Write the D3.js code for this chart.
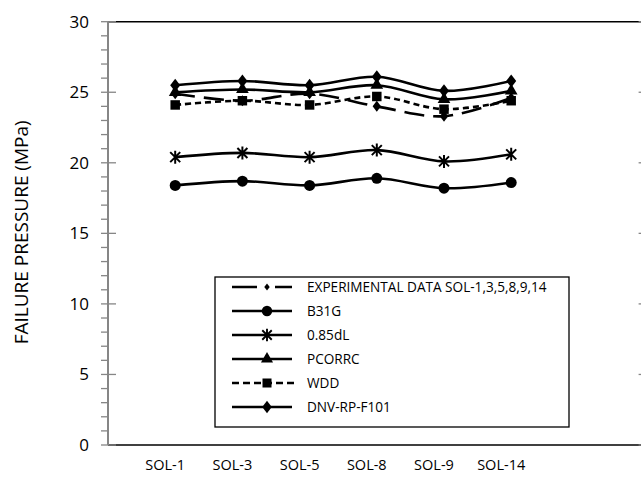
<!DOCTYPE html>
<html>
<head>
<meta charset="utf-8">
<script src="https://cdn.jsdelivr.net/npm/d3@7"></script>
<style>
	body { margin: 0; background: #fff; }
	svg { display: block; }
	text { font-family: "Open Sans", "Liberation Sans", sans-serif; fill: #000; }
</style>
</head>
<body>
<svg id="chart" width="641" height="481"></svg>
<script>

var categories = [ "SOL-1", "SOL-3", "SOL-5", "SOL-8", "SOL-9", "SOL-14" ];

var experimental = [ 24.9, 24.4, 24.9, 24.0, 23.3, 24.6 ];
var b31g = [ 18.4, 18.7, 18.4, 18.9, 18.2, 18.6 ];
var dl085 = [ 20.4, 20.7, 20.4, 20.9, 20.1, 20.6 ];
var pcorrc = [ 25.0, 25.2, 25.0, 25.5, 24.5, 25.1 ];
var wdd = [ 24.1, 24.4, 24.1, 24.7, 23.8, 24.4 ];
var dnv = [ 25.5, 25.8, 25.5, 26.1, 25.1, 25.8 ];

var yTicks = [ 0, 5, 10, 15, 20, 25, 30 ];

var series = [
	{ name: "EXPERIMENTAL DATA SOL-1,3,5,8,9,14", values: experimental, dash: "20,9", legendDash: "25,18", marker: "diamondSmall" },
	{ name: "B31G", values: b31g, dash: null, marker: "circle" },
	{ name: "0.85dL", values: dl085, dash: null, marker: "star" },
	{ name: "PCORRC", values: pcorrc, dash: null, marker: "triangle" },
	{ name: "WDD", values: wdd, dash: "6,4", legendDash: "7,4", marker: "square" },
	{ name: "DNV-RP-F101", values: dnv, dash: null, marker: "diamond" }
];

var svg = d3.select("#chart");

var margin = { left: 108, right: 645.6, top: 21.7, bottom: 445 };

var x = d3.scaleLinear().domain([0, 8]).range([margin.left, margin.right]);
var y = d3.scaleLinear().domain([0, 30]).range([margin.bottom, margin.top]);

var grey = "#868686";

// frame: black top and bottom
[0, 30].forEach(v => {
	svg.append("line")
		.attr("x1", margin.left).attr("x2", margin.right)
		.attr("y1", y(v)).attr("y2", y(v))
		.attr("stroke", "#000").attr("stroke-width", 1.5);
});

var minor = d3.range(0, 31, 1).filter(v => v % 5 !== 0);

var yAxis = svg.append("g")
	.attr("transform", `translate(${margin.left},0)`);

yAxis.selectAll(".minor")
	.data(minor)
	.join("line")
	.attr("x1", -7).attr("x2", 0)
	.attr("y1", d => y(d)).attr("y2", d => y(d))
	.attr("stroke", grey).attr("stroke-width", 1.3);

yAxis.selectAll(".major")
	.data(yTicks)
	.join("line")
	.attr("x1", -7).attr("x2", 8)
	.attr("y1", d => y(d)).attr("y2", d => y(d))
	.attr("stroke", grey).attr("stroke-width", 1.3);

yAxis.append("line")
	.attr("x1", 0).attr("x2", 0)
	.attr("y1", y(0)).attr("y2", y(30))
	.attr("stroke", grey).attr("stroke-width", 2);

yAxis.selectAll(".lbl")
	.data(yTicks)
	.join("text")
	.attr("x", -19)
	.attr("y", d => y(d))
	.attr("dy", "0.35em")
	.attr("text-anchor", "end")
	.attr("font-size", 17)
	.text(d => d);

// right axis (mostly off-canvas)
var rAxis = svg.append("g")
	.attr("transform", `translate(${margin.right},0)`);

rAxis.selectAll("line")
	.data(yTicks)
	.join("line")
	.attr("x1", -7).attr("x2", 7)
	.attr("y1", d => y(d)).attr("y2", d => y(d))
	.attr("stroke", grey).attr("stroke-width", 1.3);

// y title
svg.append("text")
	.attr("transform", `translate(28,${(margin.top + margin.bottom) / 2 - 1}) rotate(-90)`)
	.attr("text-anchor", "middle")
	.attr("font-size", 19)
	.text("FAILURE PRESSURE (MPa)");

// x labels
svg.selectAll(".xlbl")
	.data(categories)
	.join("text")
	.attr("x", (d, i) => x(i + 1) - 10)
	.attr("y", 470)
	.attr("text-anchor", "middle")
	.attr("font-size", 14.5)
	.text(d => d);

function markerPath(type) {
	switch (type) {
		case "circle": return d3.symbol(d3.symbolCircle, 95)();
		case "triangle": return d3.symbol(d3.symbolTriangle, 70)();
		case "square": return d3.symbol(d3.symbolSquare, 90)();
		case "diamond": return "M0,-6.5L5,0L0,6.5L-5,0Z";
		case "diamondSmall": return "M0,-5.5L4.2,0L0,5.5L-4.2,0Z";
		case "star": return "M-5,-5L5,5M-5,5L5,-5M0,-6.5L0,6.5";
	}
}

function drawMarker(g, type) {
	var p = g.append("path").attr("d", markerPath(type));
	if (type === "star")
		p.attr("fill", "none").attr("stroke", "#000").attr("stroke-width", 2);
	else
		p.attr("fill", "#000");
}

var line = d3.line()
	.x((d, i) => x(i + 1))
	.y(d => y(d))
	.curve(d3.curveCardinal.tension(0));

series.forEach(s => {

	svg.append("path")
		.datum(s.values)
		.attr("d", line)
		.attr("fill", "none")
		.attr("stroke", "#000")
		.attr("stroke-width", 2.6)
		.attr("stroke-dasharray", s.dash);

	s.values.forEach((v, i) => {
		var g = svg.append("g")
			.attr("transform", `translate(${x(i + 1)},${y(v)})`);
		drawMarker(g, s.marker);
	});

});

// legend
var lg = svg.append("g");

lg.append("rect")
	.attr("x", 215).attr("y", 277)
	.attr("width", 354).attr("height", 150)
	.attr("fill", "#fff")
	.attr("stroke", "#000").attr("stroke-width", 1.3);

series.forEach((s, i) => {

	var ly = 287 + i * 24;

	lg.append("line")
		.attr("x1", 232).attr("x2", s.marker === "square" ? 297 : 292)
		.attr("y1", ly).attr("y2", ly)
		.attr("stroke", "#000")
		.attr("stroke-width", 2.6)
		.attr("stroke-dasharray", s.legendDash || null);

	var g = lg.append("g")
		.attr("transform", `translate(267,${ly}) scale(${s.marker === "diamondSmall" ? 0.65 : 0.95})`);
	drawMarker(g, s.marker);

	lg.append("text")
		.attr("x", 307)
		.attr("y", ly)
		.attr("dy", "0.35em")
		.attr("font-size", 13.6)
		.text(s.name);

});

</script>
</body>
</html>
